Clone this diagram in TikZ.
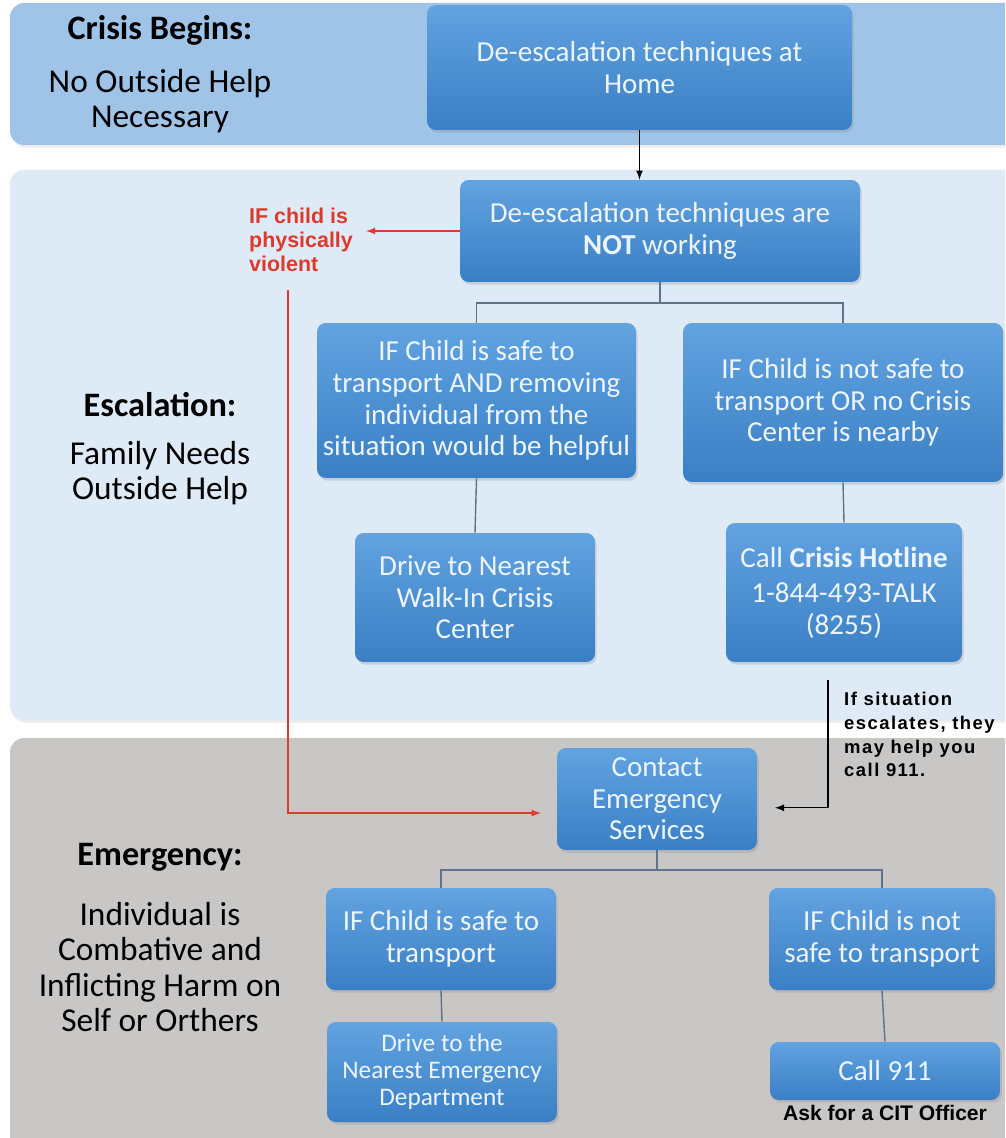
\documentclass[tikz,border=0pt]{standalone}
\usepackage{fontspec}
\setmainfont{Carlito}
\newfontfamily\arialfont{Liberation Sans}
\newfontfamily\notefont[LetterSpace=8]{Liberation Sans}
\usetikzlibrary{shadows}
\definecolor{crisisband}{RGB}{160,196,231}
\definecolor{escband}{RGB}{222,234,246}
\definecolor{emergband}{RGB}{201,198,198}
\definecolor{boxhi}{RGB}{98,163,224}
\definecolor{boxlo}{RGB}{58,127,197}
\definecolor{boxtext}{RGB}{236,245,253}
\definecolor{linkgray}{RGB}{95,115,140}
\definecolor{alarmred}{RGB}{221,58,46}
\begin{document}
\begin{tikzpicture}[x=0.02cm,y=-0.02cm,
        band/.style={rounded corners=8pt, drop shadow={opacity=0.15,shadow xshift=1pt,shadow yshift=-1.5pt}},
        box/.style={rounded corners=5pt, top color=boxhi, bottom color=boxlo, text=boxtext, align=center,
            font=\fontsize{16.5}{18}\selectfont, inner sep=2pt,
            drop shadow={opacity=0.25,shadow xshift=1pt,shadow yshift=-1.5pt}},
        head/.style={font=\fontsize{19.5}{20}\selectfont\bfseries},
        side/.style={align=center, font=\fontsize{19}{20}\selectfont},
        link/.style={linkgray, thick},
        flow/.style={black, thick, -latex},
        alarm/.style={alarmred, thick, -latex}]
        \useasboundingbox (0,0) rectangle (1005,1138);
        \clip (0,0) rectangle (1005,1138);
        % stage bands
        \fill[band, crisisband] (10,3) rectangle (1025,145);
        \fill[band, escband] (10,170) rectangle (1025,720);
        \fill[band, emergband] (10,738) rectangle (1025,1160);

        % stage labels
        \node[head] (crisis) at (160,30) {Crisis Begins:};
        \node[side] (crisistxt) at (160,101) {No Outside Help\\Necessary};
        \node[head] (escal) at (160,405) {Escalation:};
        \node[side] (escaltxt) at (160,473) {Family Needs\\Outside Help};
        \node[head] (emerg) at (160,857) {Emergency:};
        \node[side] (emergtxt) at (160,967) {Individual is\\Combative and\\Inflicting Harm on\\Self or Orthers};

        % boxes
        \node[box, minimum width=8.5cm, minimum height=2.5cm] (home) at (639.5,67.5) {De-escalation techniques at\\Home};
        \node[box, minimum width=8cm, minimum height=2.04cm] (notwork) at (660,231) {De-escalation techniques are\\\textbf{NOT} working};
        \node[box, minimum width=6.38cm, minimum height=3.1cm] (safe) at (476.5,400.5) {IF Child is safe to\\transport AND removing\\individual from the\\situation would be helpful};
        \node[box, minimum width=6.4cm, minimum height=3.18cm] (unsafe) at (843,402.5) {IF Child is not safe to\\transport OR no Crisis\\Center is nearby};
        \node[box, minimum width=4.8cm, minimum height=2.58cm] (walkin) at (475,597.5) {Drive to Nearest\\Walk-In Crisis\\Center};
        \node[box, minimum width=4.72cm, minimum height=2.78cm] (hotline) at (844,592.5) {Call \textbf{Crisis Hotline}\\[2pt]1-844-493-TALK\\(8255)};
        \node[box, minimum width=4cm, minimum height=2.04cm] (ems) at (657,799) {Contact\\Emergency\\Services};
        \node[box, minimum width=4.6cm, minimum height=2.04cm] (safe2) at (441,939) {IF Child is safe to\\transport};
        \node[box, minimum width=4.52cm, minimum height=2.04cm] (unsafe2) at (882,939) {IF Child is not\\safe to transport};
        \node[box, minimum width=4.6cm, minimum height=2cm, font=\fontsize{14.4}{15.5}\selectfont] (ed) at (442,1072) {Drive to the\\Nearest Emergency\\Department};
        \node[box, minimum width=4.6cm, minimum height=1.16cm] (call911) at (885,1071) {Call 911};

        % notes
        \node[alarmred, align=left, anchor=west, font=\arialfont\bfseries\fontsize{12.2}{13.5}\selectfont] (violent) at (243,240) {IF child is\\physically\\violent};
        \node[align=left, anchor=north west, font=\notefont\bfseries\fontsize{10.5}{13.5}\selectfont] (escnote) at (838,686) {If situation\\escalates, they\\may help you\\call 911.};
        \node[anchor=north, font=\arialfont\bfseries\fontsize{12}{13}\selectfont] (cit) at ([yshift=1pt]call911.south) {Ask for a CIT Officer};

        % connectors
        \coordinate (split1) at (660,303);
        \coordinate (split2) at (657,870);
        \coordinate (redstart) at (288,290);
        \coordinate (escstart) at (828,680);
        \draw[flow] (home.south) -- (home.south |- notwork.north);
        \draw[link] (notwork.south) -- (split1) -| (safe.north);
        \draw[link] (split1) -| (unsafe.north);
        \draw[link] (safe.south) -- (walkin.north);
        \draw[link] (unsafe.south) -- (hotline.north);
        \draw[link] (ems.south) -- (split2) -| (safe2.north);
        \draw[link] (split2) -| (unsafe2.north);
        \draw[link] (safe2.south) -- (ed.north);
        \draw[link] (unsafe2.south) -- (call911.north);
        \draw[alarm] (notwork.west) -- ([xshift=4pt]violent.east |- notwork.west);
        \draw[alarm, shorten >=9pt] (redstart) |- ([yshift=-8pt]ems.west);
        \draw[flow, shorten >=10pt] (escstart) |- ([yshift=-5pt]ems.east);
\end{tikzpicture}
\end{document}
